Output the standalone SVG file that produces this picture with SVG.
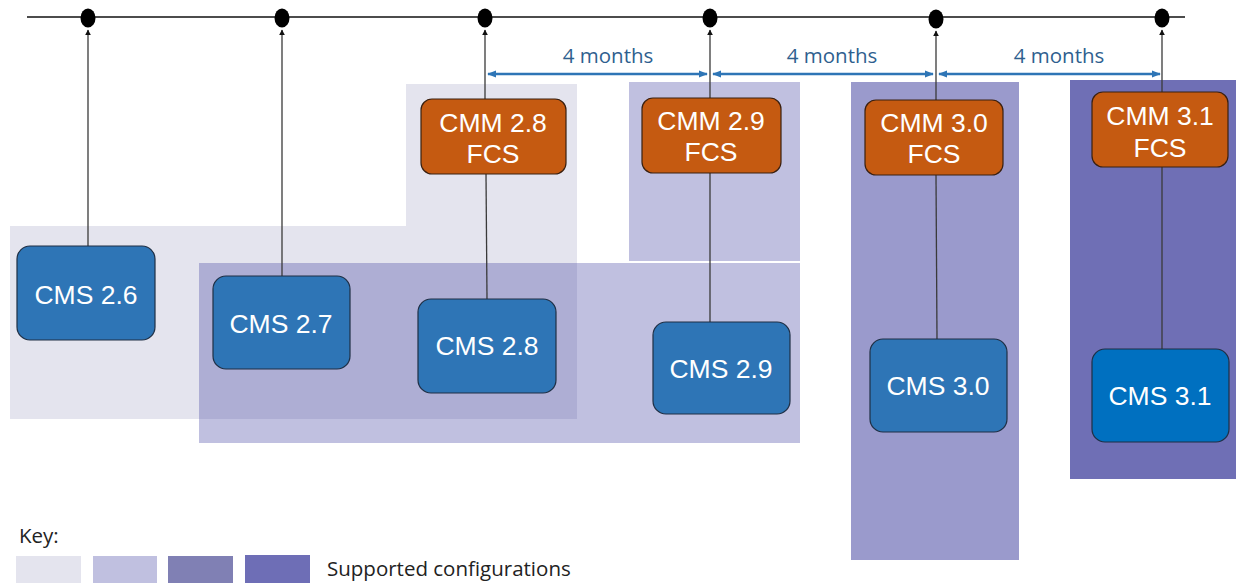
<svg xmlns="http://www.w3.org/2000/svg" width="1236" height="585" viewBox="0 0 1236 585">
<defs>
<style>
.cms{fill:#2e75b6;stroke:#1f2f45;stroke-width:1.2}
.cmm{fill:#c55a11;stroke:#3a2010;stroke-width:1.2}
.lbl{font-family:"Liberation Sans",Arial,sans-serif;font-size:26.5px;fill:#ffffff;text-anchor:middle}
.conn{stroke:#3a3a3a;stroke-width:1.3;fill:none}
.dur{stroke:#2e75b6;stroke-width:2.5;fill:none}
.durt{font-family:"Open Sans",sans-serif;font-size:20.5px;fill:#2f5f8f;text-anchor:middle}
.key{font-family:"Open Sans",sans-serif;font-size:20.5px;fill:#222}
</style>
<marker id="ah" viewBox="0 0 10 10" refX="9" refY="5" markerWidth="6" markerHeight="6" orient="auto-start-reverse" markerUnits="userSpaceOnUse">
<path d="M0,0 L10,5 L0,10 z" fill="#111"/>
</marker>
<marker id="bh" viewBox="0 0 10 10" refX="9" refY="5" markerWidth="9" markerHeight="9" orient="auto-start-reverse" markerUnits="userSpaceOnUse">
<path d="M0,1 L10,5 L0,9 z" fill="#2e75b6"/>
</marker>
</defs>
<rect width="1236" height="585" fill="#ffffff"/>
<g id="regions">
<path d="M10,226 H406 V84 H577 V419 H10 Z" fill="#e4e4ee"/>
<rect x="629" y="82" width="171" height="179" fill="#c0c0e0"/>
<rect x="199" y="263" width="601" height="180" fill="#c0c0e0"/>
<rect x="199" y="263" width="378" height="156" fill="#aeaed4"/>
<rect x="851" y="82" width="168" height="478" fill="#9a9acc"/>
<rect x="1070" y="80" width="166" height="399" fill="#6f6fb5"/>
</g>
<g id="timeline">
<line x1="27" y1="17" x2="1185" y2="17" stroke="#111" stroke-width="1.3"/>
<ellipse cx="88" cy="18" rx="7.5" ry="9.5" fill="#000"/>
<ellipse cx="282" cy="18" rx="7.5" ry="9.5" fill="#000"/>
<ellipse cx="485" cy="18" rx="7.5" ry="9.5" fill="#000"/>
<ellipse cx="710" cy="18" rx="7.5" ry="9.5" fill="#000"/>
<ellipse cx="936" cy="19" rx="7.5" ry="9.5" fill="#000"/>
<ellipse cx="1162" cy="18" rx="7.5" ry="9.5" fill="#000"/>
</g>
<g id="connectors">
<line class="conn" x1="88" y1="246" x2="88" y2="30" marker-end="url(#ah)"/>
<line class="conn" x1="282" y1="276" x2="282" y2="30" marker-end="url(#ah)"/>
<line class="conn" x1="487" y1="299" x2="486" y2="174"/>
<line class="conn" x1="485" y1="99" x2="485" y2="30" marker-end="url(#ah)"/>
<line class="conn" x1="710" y1="322" x2="710" y2="173"/>
<line class="conn" x1="710" y1="98" x2="710" y2="30" marker-end="url(#ah)"/>
<line class="conn" x1="937" y1="339" x2="936" y2="175"/>
<line class="conn" x1="936" y1="100" x2="936" y2="31" marker-end="url(#ah)"/>
<line class="conn" x1="1162" y1="349" x2="1162" y2="167"/>
<line class="conn" x1="1162" y1="92" x2="1162" y2="30" marker-end="url(#ah)"/>
<line class="dur" x1="488" y1="74" x2="707" y2="74" marker-start="url(#bh)" marker-end="url(#bh)"/>
<line class="dur" x1="713" y1="74" x2="933" y2="74" marker-start="url(#bh)" marker-end="url(#bh)"/>
<line class="dur" x1="939" y1="74" x2="1160" y2="74" marker-start="url(#bh)" marker-end="url(#bh)"/>
<text class="durt" x="608" y="63">4 months</text>
<text class="durt" x="832" y="63">4 months</text>
<text class="durt" x="1059" y="63">4 months</text>
</g>
<g id="cmm28"><rect class="cmm" x="421" y="99" width="145" height="75" rx="11"/><text class="lbl" x="493" y="132">CMM 2.8</text><text class="lbl" x="493" y="163">FCS</text></g>
<g id="cmm29"><rect class="cmm" x="642" y="98" width="139" height="75" rx="11"/><text class="lbl" x="711" y="130">CMM 2.9</text><text class="lbl" x="711" y="161">FCS</text></g>
<g id="cmm30"><rect class="cmm" x="865" y="100" width="138" height="75" rx="11"/><text class="lbl" x="934" y="132">CMM 3.0</text><text class="lbl" x="934" y="163">FCS</text></g>
<g id="cmm31"><rect class="cmm" x="1092" y="92" width="136" height="75" rx="11"/><text class="lbl" x="1160" y="125">CMM 3.1</text><text class="lbl" x="1160" y="157">FCS</text></g>
<g id="cms26"><rect class="cms" x="17" y="246" width="138" height="94" rx="13"/><text class="lbl" x="86" y="304">CMS 2.6</text></g>
<g id="cms27"><rect class="cms" x="213" y="276" width="137" height="93" rx="13"/><text class="lbl" x="281" y="333">CMS 2.7</text></g>
<g id="cms28"><rect class="cms" x="418" y="299" width="138" height="94" rx="13"/><text class="lbl" x="487" y="355">CMS 2.8</text></g>
<g id="cms29"><rect class="cms" x="653" y="322" width="137" height="92" rx="13"/><text class="lbl" x="721" y="378">CMS 2.9</text></g>
<g id="cms30"><rect class="cms" x="870" y="339" width="137" height="93" rx="13"/><text class="lbl" x="938" y="395">CMS 3.0</text></g>
<g id="cms31"><rect class="cms" x="1092" y="349" width="137" height="93" rx="13" style="fill:#0070c0"/><text class="lbl" x="1160" y="405">CMS 3.1</text></g>
<g id="key">
<text class="key" x="19" y="543">Key:</text>
<rect x="16" y="556" width="65" height="27" fill="#e4e4ee"/>
<rect x="93" y="556" width="64" height="27" fill="#c0c0e0"/>
<rect x="168" y="556" width="65" height="27" fill="#8080b4"/>
<rect x="245" y="555" width="65" height="28" fill="#6e6eb6"/>
<text class="key" x="327" y="576">Supported configurations</text>
</g>
</svg>
